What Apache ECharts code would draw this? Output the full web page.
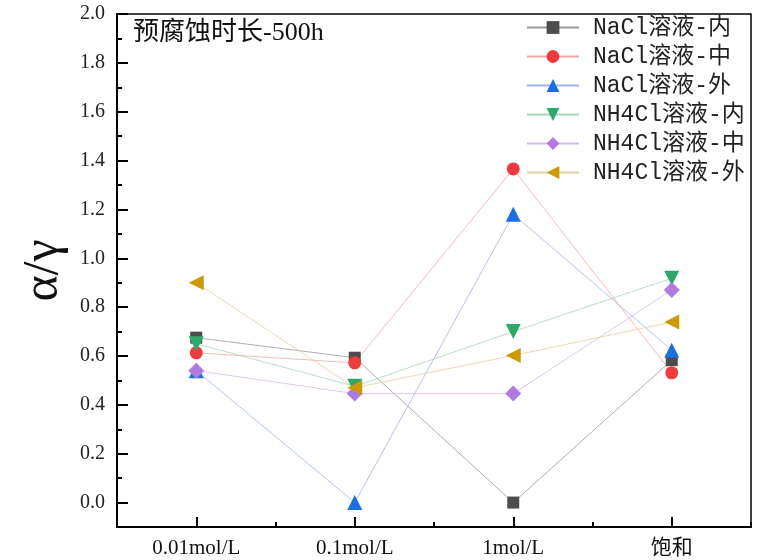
<!DOCTYPE html>
<html>
<head>
<meta charset="utf-8">
<script src="https://cdn.jsdelivr.net/npm/echarts@6/dist/echarts.min.js"></script>
<style>
  html, body { margin: 0; padding: 0; background: #fff; }
  #chart { width: 773px; height: 560px; }
</style>
</head>
<body>
<div id="chart"></div>
<script>
// Solution concentrations on the x axis
const categories = ['0.01mol/L', '0.1mol/L', '1mol/L', '饱和'];

// α/γ ratio after 500 h of pre-corrosion
const naclInner  = [0.675, 0.593, 0.0, 0.583];
const naclMiddle = [0.613, 0.572, 1.366, 0.531];
const naclOuter  = [0.54, 0.0, 1.18, 0.624];
const nh4clInner  = [0.65, 0.476, 0.70, 0.918];
const nh4clMiddle = [0.54, 0.446, 0.446, 0.87];
const nh4clOuter  = [0.90, 0.47, 0.602, 0.739];

// Y axis ticks
const yMajorTicks = [0.0, 0.2, 0.4, 0.6, 0.8, 1.0, 1.2, 1.4, 1.6, 1.8, 2.0];
const yMinorTicks = [0.1, 0.3, 0.5, 0.7, 0.9, 1.1, 1.3, 1.5, 1.7, 1.9];

const serif = '"Liberation Serif", "Noto Sans CJK SC", serif';
const mono = '"Liberation Mono", "Noto Sans CJK SC", monospace';

function makeSeries(name, data, color, lineColor, symbol, size, rotate) {
  return {
    name: name,
    type: 'line',
    data: data,
    symbol: symbol,
    symbolSize: size,
    symbolRotate: rotate || 0,
    xAxisIndex: 0,
    yAxisIndex: 0,
    itemStyle: { color: color },
    lineStyle: { color: lineColor, width: 0.8 },
    emphasis: { disabled: true }
  };
}

const chart = echarts.init(document.getElementById('chart'), null, { renderer: 'canvas' });

chart.setOption({
  animation: false,
  backgroundColor: '#fff',
  title: {
    text: '预腐蚀时长-500h',
    left: 128,
    top: 15,
    textStyle: { fontFamily: serif, fontSize: 26, fontWeight: 'normal', color: '#111' }
  },
  legend: {
    orient: 'vertical',
    left: 526,
    top: 16,
    padding: 0,
    itemWidth: 52,
    itemHeight: 16,
    itemGap: 6,
    textStyle: { fontFamily: mono, fontSize: 23, color: '#222', padding: [0, 0, 0, 9] },
    data: ['NaCl溶液-内', 'NaCl溶液-中', 'NaCl溶液-外', 'NH4Cl溶液-内', 'NH4Cl溶液-中', 'NH4Cl溶液-外']
  },
  grid: {
    left: 117, right: 22, top: 14, bottom: 33,
    show: true, borderColor: '#000', borderWidth: 1.5, backgroundColor: 'transparent'
  },
  xAxis: [
    {
      type: 'category',
      data: categories,
      boundaryGap: true,
      axisLine: { onZero: false, lineStyle: { color: '#000', width: 2 } },
      axisTick: { show: true, alignWithLabel: true, inside: true, length: 10, lineStyle: { color: '#000', width: 2 } },
      axisLabel: { fontFamily: serif, fontSize: 21, color: '#111', margin: 11 },
      splitLine: { show: false }
    },
    {
      type: 'category',
      data: categories,
      boundaryGap: true,
      position: 'bottom',
      axisLine: { show: false, onZero: false },
      axisTick: { show: true, inside: true, length: 5, lineStyle: { color: '#000', width: 2 } },
      axisLabel: { show: false },
      splitLine: { show: false }
    }
  ],
  yAxis: [
    {
      type: 'value',
      min: -0.1,
      max: 2.0,
      name: 'α/γ',
      nameLocation: 'middle',
      nameGap: 47,
      nameTextStyle: { fontFamily: serif, fontSize: 50, color: '#111' },
      axisLine: { show: true, lineStyle: { color: '#000', width: 2 } },
      axisTick: { show: true, inside: true, length: 11, customValues: yMajorTicks, lineStyle: { color: '#000', width: 2 } },
      axisLabel: {
        fontFamily: serif, fontSize: 20, color: '#222', margin: 12,
        customValues: yMajorTicks,
        formatter: v => v.toFixed(1)
      },
      splitLine: { show: false }
    },
    {
      type: 'value',
      min: -0.1,
      max: 2.0,
      position: 'left',
      axisLine: { show: false },
      axisTick: { show: true, inside: true, length: 5, customValues: yMinorTicks, lineStyle: { color: '#000', width: 2 } },
      axisLabel: { show: false },
      splitLine: { show: false }
    }
  ],
  series: [
    makeSeries('NaCl溶液-内', naclInner, '#4d4d4d', '#9a9a9a', 'rect', 12),
    makeSeries('NaCl溶液-中', naclMiddle, '#ee3b3e', '#f2a8a8', 'circle', 13),
    makeSeries('NaCl溶液-外', naclOuter, '#1b6fe0', '#9fb4ea', 'triangle', 15),
    makeSeries('NH4Cl溶液-内', nh4clInner, '#2ea868', '#a8d4b8', 'triangle', 15, 180),
    makeSeries('NH4Cl溶液-中', nh4clMiddle, '#b07ae0', '#d4baf0', 'diamond', 16),
    makeSeries('NH4Cl溶液-外', nh4clOuter, '#cc9a06', '#e4d0a0', 'triangle', 15, 90)
  ]
});
</script>
</body>
</html>
